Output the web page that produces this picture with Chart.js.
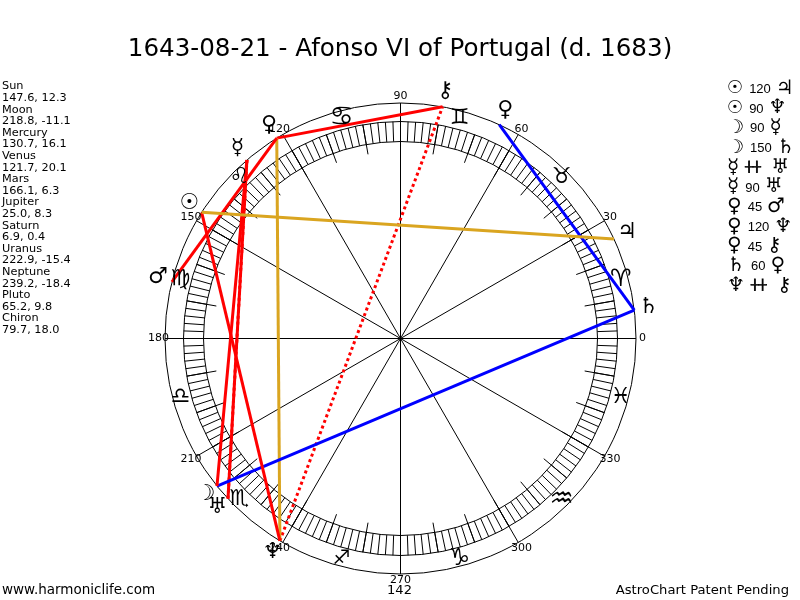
<!DOCTYPE html>
<html>
<head>
<meta charset="utf-8">
<style>html,body{margin:0;padding:0;background:#fff}canvas{display:block}</style>
<script src="https://cdn.jsdelivr.net/npm/chart.js@4"></script>
</head>
<body>
<canvas id="c" width="800" height="600"></canvas>
<script>
const titleText = "1643-08-21 - Afonso VI of Portugal (d. 1683)";
const planetNames = ["Sun","Moon","Mercury","Venus","Mars","Jupiter","Saturn","Uranus","Neptune","Pluto","Chiron"];
const longitudes = [147.6,218.8,130.7,121.7,166.1,25.0,6.9,222.9,239.2,65.2,79.7];
const latitudes = [12.3,-11.1,16.1,20.1,6.3,8.3,0.4,-15.4,-18.4,9.8,18.0];
const planetGlyphs = ["☉","☽","☿","♀","♂","♃","♄","♅","♆","♀","⚷"];
const signGlyphs = ["♈","♉","♊","♋","♌","♍","♎","♏","♐","♑","♒","♓"];
const angleLabels = [0,30,60,90,120,150,180,210,240,270,300,330];
const aspectFrom = ["Sun","Sun","Moon","Moon","Mercury","Mercury","Venus","Venus","Venus","Saturn","Neptune"];
const aspectType = ["120","90","90","150","##","90","45","120","45","60","##"];
const aspectTo = ["Jupiter","Neptune","Mercury","Saturn","Uranus","Uranus","Mars","Neptune","Chiron","Pluto","Chiron"];
const footerLeft = "www.harmoniclife.com";
const footerMid = "142";
const footerRight = "AstroChart Patent Pending";

const RING = 235.5, BAND_OUT = 217, BAND_IN = 197, TICK_IN = 187, LABEL_R = 242, SIGN_R = 228, GLYPH_R = 250;
const aspectColor = {"120":"#daa520","90":"#ff0000","45":"#ff0000","##":"#ff0000","60":"#0000ff","150":"#0000ff"};
const signSize = {"♈":24,"♉":22,"♊":22,"♋":27,"♌":22,"♍":22,"♎":22,"♏":22,"♐":20,"♑":24,"♒":27,"♓":22};
const signFont = g => signSize[g]+"px 'DejaVu Sans'";
const planetFont = g => g==="☉" ? "bold 22px 'DejaVu Sans'" : g==="☽" ? "bold 22px 'DejaVu Sans'" : "22px 'DejaVu Sans'";
const listFont = g => g==="☉" ? "bold 18px 'DejaVu Sans'" : g==="☽" ? "bold 19px 'DejaVu Sans'" : "20px 'DejaVu Sans'";
const polar = (deg, r) => ({x: r*Math.cos(deg*Math.PI/180), y: r*Math.sin(deg*Math.PI/180)});
const lonOf = n => longitudes[planetNames.indexOf(n)];
const glyphOf = n => planetGlyphs[planetNames.indexOf(n)];

const aspectSets = aspectFrom.map((f,i)=>({
  label: f+" "+aspectType[i]+" "+aspectTo[i],
  data: [polar(lonOf(f),RING), polar(lonOf(aspectTo[i]),RING)],
  showLine: true, borderColor: aspectColor[aspectType[i]], backgroundColor: aspectColor[aspectType[i]],
  borderWidth: 3, pointRadius: 0, borderDash: aspectType[i]==="##" ? [3,3] : [], clip:false
}));
const planetSet = {label:"Planets", data: longitudes.map(l=>polar(l,RING)), showLine:false, pointRadius:0};

const wheel = {
  id:"wheel",
  beforeDatasetsDraw(ch){
    const {ctx, scales:{x,y}} = ch;
    const cx=x.getPixelForValue(0), cy=y.getPixelForValue(0);
    const seg=(a,r0,r1)=>{const p=polar(a,r0),q=polar(a,r1);
      ctx.moveTo(x.getPixelForValue(p.x),y.getPixelForValue(p.y));
      ctx.lineTo(x.getPixelForValue(q.x),y.getPixelForValue(q.y));};
    ctx.save(); ctx.strokeStyle="#000"; ctx.lineWidth=1;
    [RING,BAND_OUT,BAND_IN].forEach(r=>{ctx.beginPath();ctx.arc(cx,cy,x.getPixelForValue(r)-cx,0,Math.PI*2);ctx.stroke();});
    ctx.beginPath();
    for(let a=0;a<360;a+=2){ seg(a,BAND_IN,BAND_OUT); }
    for(let a=0;a<360;a+=10){ seg(a,TICK_IN,BAND_OUT); }
    angleLabels.forEach(a=>seg(a,0,RING));
    ctx.stroke(); ctx.restore();
  },
  afterDatasetsDraw(ch){
    const {ctx, scales:{x,y}} = ch;
    const put=(t,d,r,font,dx=0,dy=0)=>{const p=polar(d,r);ctx.font=font;
      ctx.fillText(t,x.getPixelForValue(p.x)+dx,y.getPixelForValue(p.y)+dy);};
    ctx.save(); ctx.fillStyle="#000"; ctx.strokeStyle="#000"; ctx.textBaseline="middle"; ctx.textAlign="center";
    angleLabels.forEach(a=>put(String(a),a,LABEL_R,"11px 'DejaVu Sans'"));
    signGlyphs.forEach((g,i)=>put(g,15+30*i,SIGN_R,signFont(g)));
    planetGlyphs.forEach((g,i)=>put(g,longitudes[i],GLYPH_R,planetFont(g),0,-1));
    // readout on the left
    ctx.textAlign="left"; ctx.font="11.3px 'DejaVu Sans'";
    let ly=86.5;
    planetNames.forEach((n,i)=>{
      ctx.fillText(n,2,ly); ly+=11.6;
      ctx.fillText(longitudes[i].toFixed(1)+", "+latitudes[i].toFixed(1),2,ly); ly+=11.6;
    });
    // aspect list on the right
    aspectFrom.forEach((f,i)=>{
      const ry=88.5+19.7*i; let rx=727;
      const g1=glyphOf(f), g2=glyphOf(aspectTo[i]), t=aspectType[i];
      ctx.font=listFont(g1); ctx.fillText(g1,rx,ry); rx+=ctx.measureText(g1).width+6;
      if(t==="##"){
        ctx.save(); ctx.translate(rx,ry); ctx.scale(0.8,0.62);
        ctx.font="bold 16px 'DejaVu Sans'"; ctx.lineWidth=1; ctx.fillText("┼┼",0,0); ctx.strokeText("┼┼",0,0);
        ctx.restore(); rx+=18+8;
      } else {
        ctx.font="13px 'Liberation Sans'"; ctx.fillText(t,rx,ry+1);
        rx+=ctx.measureText(t).width+5;
      }
      ctx.font=listFont(g2); ctx.fillText(g2,rx,ry);
    });
    // footer
    ctx.font="13.5px 'DejaVu Sans'"; ctx.fillText(footerLeft,2,590.5);
    ctx.textAlign="center"; ctx.font="13px 'DejaVu Sans'"; ctx.fillText(footerMid,399.5,590.5);
    ctx.textAlign="right"; ctx.font="13.15px 'DejaVu Sans'"; ctx.fillText(footerRight,789,590.5);
    ctx.restore();
  }
};

new Chart(document.getElementById("c"),{
  type:"scatter",
  data:{datasets:[...aspectSets, planetSet]},
  plugins:[wheel],
  options:{
    responsive:false, animation:false, devicePixelRatio:1,
    layout:{padding:0},
    plugins:{
      legend:{display:false}, tooltip:{enabled:false},
      title:{display:true,text:titleText,color:"#000",align:"center",
        font:{family:"'DejaVu Sans'",size:24.6,weight:"normal",lineHeight:"30px"},
        padding:{top:35,bottom:15}}
    },
    scales:{
      x:{type:"linear",display:false,min:-400.5,max:399.5},
      y:{type:"linear",display:false,min:-261.5,max:258.5}
    }
  }
});
</script>
</body>
</html>
